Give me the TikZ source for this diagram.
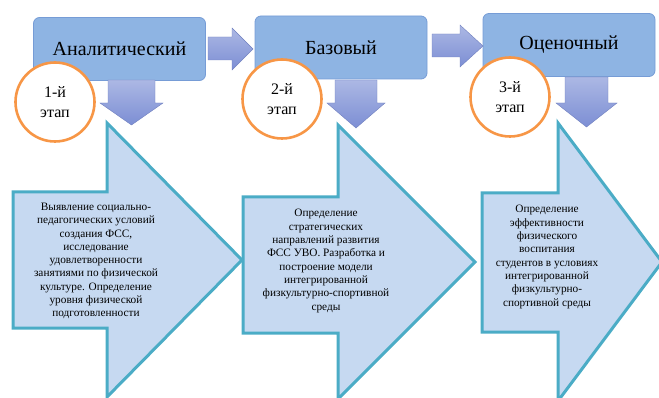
\documentclass[tikz,border=0pt]{standalone}
\usepackage{fontspec}
\setmainfont{Liberation Serif}
\usepackage{tikz}
\usetikzlibrary{positioning,calc,shadings}

\definecolor{boxblue}{RGB}{142,180,227}
\definecolor{boxedge}{RGB}{118,156,214}
\definecolor{arrowtop}{RGB}{172,184,228}
\definecolor{arrowbot}{RGB}{124,142,212}
\definecolor{bigfill}{RGB}{198,217,241}
\definecolor{bigedge}{RGB}{75,172,198}
\definecolor{ringorange}{RGB}{247,150,70}

\tikzset{
    stagebox/.style={rectangle, rounded corners=6pt, fill=boxblue, draw=boxedge, line width=0.8pt,
        minimum width=172pt, minimum height=63pt, font=\fontsize{20}{24}\selectfont},
    blockarrow/.style={top color=arrowtop, bottom color=arrowbot, draw=arrowbot!90!black, line width=0.4pt},
    bigarrow/.style={fill=bigfill, draw=bigedge, line width=3pt, line join=miter},
    stepring/.style={circle, fill=white, draw=ringorange, line width=2.6pt, minimum size=79pt,
        align=center, font=\fontsize{16}{20}\selectfont},
    stagetext/.style={align=center, font=\fontsize{11.3}{13.3}\selectfont}
}

\begin{document}
\begin{tikzpicture}[x=1pt, y=-1pt]
    \clip (0,0) rectangle (659,398);

    % Stage boxes
    \node [stagebox] (anal) at (119.5, 49) {Аналитический};
    \node [stagebox] (baza) at (341, 47.5) {Базовый};
    \node [stagebox] (otsen) at (569, 45) {Оценочный};

    % Arrows between the boxes
    \draw [blockarrow] (208,37) -- (232,37) -- (232,28) -- (253,49) -- (232,70) -- (232,60) -- (208,60) -- cycle;
    \draw [blockarrow] (432,34) -- (460,34) -- (460,25) -- (483,46) -- (460,67) -- (460,57) -- (432,57) -- cycle;

    % Arrows down from the boxes
    \draw [blockarrow] (108,80) -- (155,80) -- (155,103) -- (163,103) -- (131.5,125) -- (100,103) -- (108,103) -- cycle;
    \draw [blockarrow] (335,80) -- (377,80) -- (377,103) -- (385,103) -- (356,128) -- (327,103) -- (335,103) -- cycle;
    \draw [blockarrow] (565,77) -- (608,77) -- (608,103) -- (617,103) -- (586.5,127) -- (556,103) -- (565,103) -- cycle;

    % Stage numbers
    \node [stepring] (ring1) at (55,102) {1-й\\этап};
    \node [stepring] (ring2) at (282,99) {2-й\\этап};
    \node [stepring] (ring3) at (510,97) {3-й\\этап};

    % Big arrows with the stage contents
    \draw [bigarrow] (13,192) -- (107,192) -- (107,123) -- (242,260) -- (107,397) -- (107,328) -- (13,328) -- cycle;
    \draw [bigarrow] (243,197) -- (338,197) -- (338,125) -- (475,262) -- (338,399) -- (338,333) -- (243,333) -- cycle;
    \draw [bigarrow] (482,193) -- (558,193) -- (558,123) -- (662,262) -- (558,401) -- (558,332) -- (482,332) -- cycle;

    \node [stagetext] (text1) at (96,261) {Выявление социально-\\педагогических условий\\создания ФСС,\\исследование\\удовлетворенности\\занятиями по физической\\культуре. Определение\\уровня физической\\подготовленности};
    \node [stagetext] (text2) at (326,261) {Определение\\стратегических\\направлений развития\\ФСС УВО. Разработка и\\построение модели\\интегрированной\\физкультурно-спортивной\\среды};
    \node [stagetext] (text3) at (547,257) {Определение\\эффективности\\физического\\воспитания\\студентов в условиях\\интегрированной\\физкультурно-\\спортивной среды};
\end{tikzpicture}
\end{document}
